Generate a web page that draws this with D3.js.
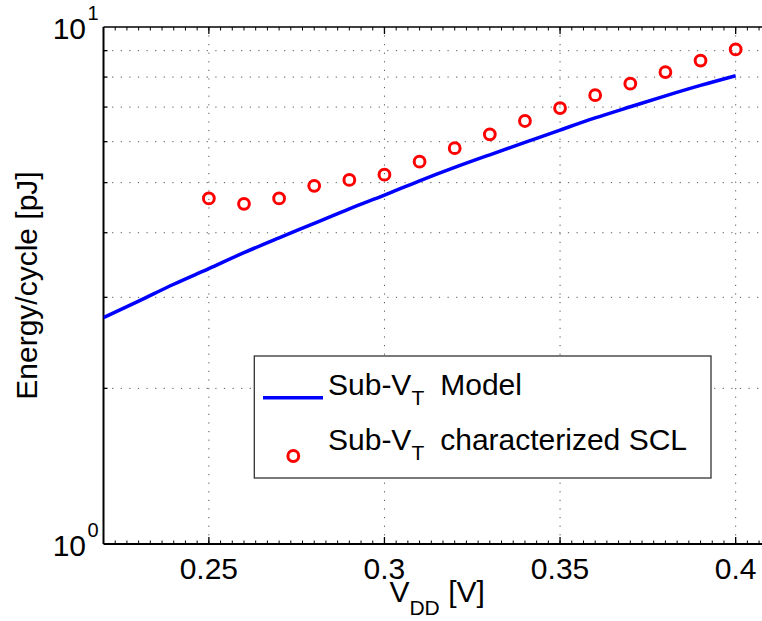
<!DOCTYPE html>
<html>
<head>
<meta charset="utf-8">
<script src="https://cdn.jsdelivr.net/npm/d3@7"></script>
<style>
  html, body { margin: 0; padding: 0; background: #fff; }
  svg { display: block; }
  text { font-family: "Liberation Sans", Arial, Helvetica, sans-serif; fill: #000; }
</style>
</head>
<body>
<svg id="chart" width="762" height="621"></svg>
<script>
// ---- data ----
const modelVdd = [0.22, 0.23, 0.24, 0.25, 0.26, 0.27, 0.28, 0.29, 0.30, 0.31,
                  0.32, 0.33, 0.34, 0.35, 0.36, 0.37, 0.38, 0.39, 0.40];
const modelEnergy = [2.74, 2.95, 3.18, 3.41, 3.66, 3.91, 4.17, 4.45, 4.73, 5.04,
                     5.35, 5.66, 5.98, 6.32, 6.67, 7.01, 7.36, 7.71, 8.05];
const sclVdd = [0.25, 0.26, 0.27, 0.28, 0.29, 0.30, 0.31, 0.32,
                0.33, 0.34, 0.35, 0.36, 0.37, 0.38, 0.39, 0.40];
const sclEnergy = [4.66, 4.55, 4.66, 4.93, 5.06, 5.18, 5.49, 5.83,
                   6.20, 6.58, 6.97, 7.38, 7.77, 8.18, 8.61, 9.05];
const xTicks = [0.25, 0.30, 0.35, 0.40];
const xTickLabels = ["0.25", "0.3", "0.35", "0.4"];
const yMajorTicks = [1, 10];
const yMajorExp = ["0", "1"];
const yMinorTicks = [2, 3, 4, 5, 6, 7, 8, 9];
const legendLabels = ["Model", "characterized SCL"];

(function () {
// ---- layout ----
const svg = d3.select("#chart");
const pLeft = 103.5, pTop = 27, pBottom = 544;
const x = d3.scaleLinear().domain([0.22, 0.41]).range([pLeft, pLeft + 0.19 * 3512]);
const y = d3.scaleLog().domain([1, 10]).range([pBottom, pTop]);
const pRight = x(0.41);
const FS = 30;

// grid
const grid = svg.append("g").attr("stroke", "#555").attr("stroke-width", 1)
  .attr("stroke-dasharray", "1.2,7.4").attr("fill", "none");
grid.selectAll("line.gx").data(xTicks).join("line").attr("class", "gx")
  .attr("x1", d => x(d)).attr("x2", d => x(d)).attr("y1", pBottom).attr("y2", pTop);
grid.selectAll("line.gy").data(yMinorTicks).join("line").attr("class", "gy")
  .attr("x1", pLeft).attr("x2", pRight).attr("y1", d => y(d)).attr("y2", d => y(d));

// axes frame
const axG = svg.append("g").attr("stroke", "#000").attr("fill", "none");
axG.append("line").attr("x1", pLeft).attr("x2", pRight).attr("y1", pBottom).attr("y2", pBottom).attr("stroke-width", 2);
axG.append("line").attr("x1", pLeft).attr("x2", pRight).attr("y1", pTop).attr("y2", pTop).attr("stroke-width", 1.5);
axG.append("line").attr("x1", pLeft).attr("x2", pLeft).attr("y1", pTop).attr("y2", pBottom).attr("stroke-width", 2);

// x ticks (major + minor), bottom and top
const xMinor = d3.range(0, 58).map(i => 0.22 + i * (0.05 / 15)).filter(v => v < 0.41);
axG.selectAll("line.xmb").data(xMinor).join("line").attr("class", "xmb")
  .attr("x1", d => x(d)).attr("x2", d => x(d)).attr("y1", pBottom).attr("y2", pBottom - 3.5).attr("stroke-width", 1);
axG.selectAll("line.xmt").data(xMinor).join("line").attr("class", "xmt")
  .attr("x1", d => x(d)).attr("x2", d => x(d)).attr("y1", pTop).attr("y2", pTop + 3.5).attr("stroke-width", 1);
axG.selectAll("line.xMb").data(xTicks).join("line").attr("class", "xMb")
  .attr("x1", d => x(d)).attr("x2", d => x(d)).attr("y1", pBottom).attr("y2", pBottom - 7).attr("stroke-width", 1.3);
axG.selectAll("line.xMt").data(xTicks).join("line").attr("class", "xMt")
  .attr("x1", d => x(d)).attr("x2", d => x(d)).attr("y1", pTop).attr("y2", pTop + 7).attr("stroke-width", 1.3);
// y minor ticks
axG.selectAll("line.ym").data(yMinorTicks).join("line").attr("class", "ym")
  .attr("x1", pLeft).attr("x2", pLeft + 4).attr("y1", d => y(d)).attr("y2", d => y(d)).attr("stroke-width", 1.3);

// tick labels
svg.selectAll("text.xt").data(xTicks).join("text").attr("class", "xt")
  .attr("x", d => x(d)).attr("y", pBottom + 35).attr("text-anchor", "middle")
  .attr("font-size", FS).text((d, i) => xTickLabels[i]);
yMajorTicks.forEach((v, i) => {
  svg.append("text").attr("x", 86).attr("y", y(v) + 12).attr("text-anchor", "end")
    .attr("font-size", FS).text("10");
  svg.append("text").attr("x", 87.5).attr("y", y(v) - 7).attr("text-anchor", "start")
    .attr("font-size", 20).text(yMajorExp[i]);
});

// axis labels
const xl = svg.append("text").attr("x", (pLeft + pRight) / 2).attr("y", 602)
  .attr("text-anchor", "middle").attr("font-size", FS);
xl.append("tspan").text("V");
xl.append("tspan").attr("font-size", 21).attr("dy", 13).text("DD");
xl.append("tspan").attr("dy", -13).text(" [V]");

svg.append("text").attr("transform", `translate(37,${(pTop + pBottom) / 2}) rotate(-90)`)
  .attr("text-anchor", "middle").attr("font-size", FS).text("Energy/cycle [pJ]");

// data
svg.append("clipPath").attr("id", "plotclip").append("rect")
  .attr("x", pLeft).attr("y", pTop).attr("width", pRight - pLeft).attr("height", pBottom - pTop);
const plot = svg.append("g").attr("clip-path", "url(#plotclip)");
const line = d3.line().x((d, i) => x(modelVdd[i])).y(d => y(d)).curve(d3.curveMonotoneX);
plot.append("path").datum(modelEnergy).attr("d", line)
  .attr("fill", "none").attr("stroke", "#0000ff").attr("stroke-width", 3.5);
plot.selectAll("circle.scl").data(sclEnergy).join("circle").attr("class", "scl")
  .attr("cx", (d, i) => x(sclVdd[i])).attr("cy", d => y(d)).attr("r", 5.4)
  .attr("fill", "none").attr("stroke", "#ff0000").attr("stroke-width", 3);

// legend
const lg = svg.append("g");
lg.append("rect").attr("x", 254.3).attr("y", 356).attr("width", 456.7).attr("height", 122)
  .attr("fill", "#fff").attr("stroke", "#333").attr("stroke-width", 1.3);
lg.append("line").attr("x1", 263).attr("x2", 323).attr("y1", 397.7).attr("y2", 397.7)
  .attr("stroke", "#0000ff").attr("stroke-width", 3.5);
lg.append("circle").attr("cx", 293.3).attr("cy", 456).attr("r", 5.4)
  .attr("fill", "none").attr("stroke", "#ff0000").attr("stroke-width", 3);
[395, 450].forEach((by, i) => {
  const t = lg.append("text").attr("x", 328).attr("y", by).attr("font-size", FS);
  t.append("tspan").text("Sub-V");
  t.append("tspan").attr("font-size", 21).attr("dy", 10).text("T");
  t.append("tspan").attr("dy", -10).attr("dx", 16).text(legendLabels[i]);
});
})();
</script>
</body>
</html>
